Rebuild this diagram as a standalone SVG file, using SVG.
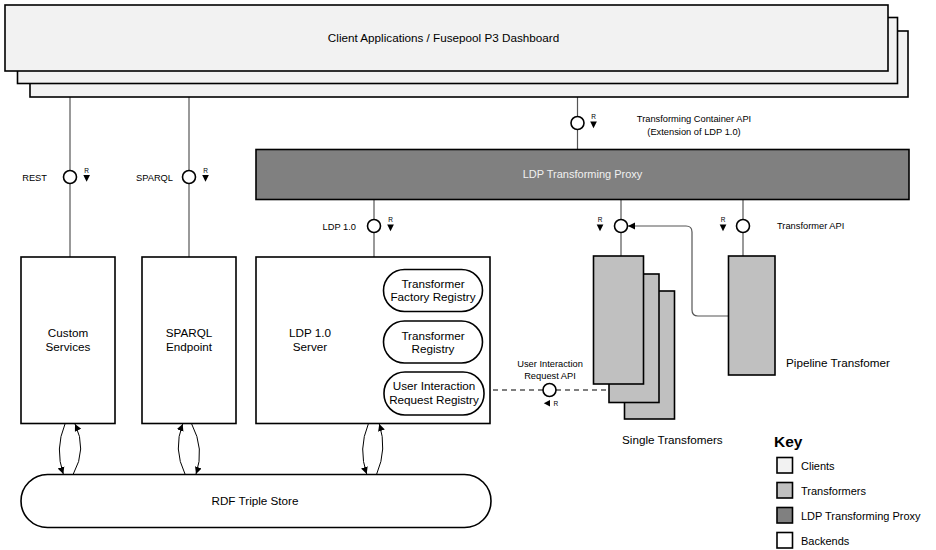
<svg xmlns="http://www.w3.org/2000/svg" width="936" height="550" viewBox="0 0 936 550">
<style>
  text { font-family: "Liberation Sans", Arial, sans-serif; fill: #000; }
  .main { font-size: 11.7px; text-anchor: middle; }
  .lbl { font-size: 9.3px; }
  .r { font-size: 6.5px; text-anchor: middle; }
  .box { stroke: #000; stroke-width: 1.6; }
  .client { fill: #f2f2f2; }
  .trans { fill: #c0c0c0; }
  .proxy { fill: #808080; }
  .backend { fill: #ffffff; }
  .conn { stroke: #555; stroke-width: 1.2; fill: none; }
  .iface { fill: #fff; stroke: #000; stroke-width: 1.6; }
  .tri { fill: #000; }
  .bi { stroke: #000; stroke-width: 1; fill: none; marker-end: url(#ah); }
  .key { font-size: 11px; }
</style>
<defs>
  <marker id="ah" markerWidth="8" markerHeight="8" refX="7" refY="4" orient="auto" markerUnits="userSpaceOnUse">
    <path d="M0,0.5 L7,4 L0,7.5 Z" fill="#000"/>
  </marker>
</defs>

<g id="connectors">
  <line class="conn" x1="70" y1="97" x2="70" y2="257"/>
  <line class="conn" x1="189" y1="97" x2="189" y2="257"/>
  <line class="conn" x1="577.5" y1="97" x2="577.5" y2="149"/>
  <line class="conn" x1="374" y1="199" x2="374" y2="257"/>
  <line class="conn" x1="621" y1="199" x2="621" y2="256"/>
  <line class="conn" x1="743" y1="199" x2="743" y2="256"/>
  <path class="conn" d="M728,316 H698 Q692,316 692,310 V232 Q692,226 686,226 H628" stroke="#000" marker-end="url(#ah)"/>
  <line x1="484" y1="390" x2="609" y2="390" stroke="#000" stroke-width="1.2" stroke-dasharray="5,4"/>
  <path class="bi" d="M65,424 Q54.6,449 63.3,474"/>
  <path class="bi" d="M73.3,474 Q87.2,449 75,424"/>
  <path class="bi" d="M185,474 Q172.8,449 182.7,424"/>
  <path class="bi" d="M191.7,424 Q204.8,449 196,474"/>
  <path class="bi" d="M368.3,424 Q357.9,449 366.7,474"/>
  <path class="bi" d="M376.7,474 Q387.4,449 379.3,424"/>
  <circle class="iface" cx="70" cy="177" r="6.5"/>
  <circle class="iface" cx="189" cy="177" r="6.5"/>
  <circle class="iface" cx="577.5" cy="123" r="6.5"/>
  <circle class="iface" cx="374" cy="226" r="6.5"/>
  <circle class="iface" cx="621" cy="226" r="6.5"/>
  <circle class="iface" cx="743" cy="226" r="6.5"/>
  <circle class="iface" cx="549.5" cy="390" r="6.5"/>
  <text class="r" x="86.5" y="172.5">R</text>
  <path class="tri" d="M83.3,175 H90 L86.6,181.7 Z"/>
  <text class="r" x="205.5" y="172.5">R</text>
  <path class="tri" d="M202.2,175 H208.9 L205.5,181.7 Z"/>
  <text class="r" x="593.5" y="118.5">R</text>
  <path class="tri" d="M590.2,121.5 H596.9 L593.5,128.2 Z"/>
  <text class="r" x="390.5" y="221.5">R</text>
  <path class="tri" d="M387.2,224.5 H393.9 L390.5,231.2 Z"/>
  <text class="r" x="600" y="221.5">R</text>
  <path class="tri" d="M596.7,224.5 H603.4 L600,231.2 Z"/>
  <text class="r" x="723" y="221.5">R</text>
  <path class="tri" d="M719.7,224.5 H726.4 L723,231.2 Z"/>
  <path class="tri" d="M550,400 V406.5 L543.8,403.2 Z"/>
  <text class="r" x="553.5" y="405.8" style="text-anchor:start">R</text>
  <text class="lbl" x="47" y="180.5" text-anchor="end">REST</text>
  <text class="lbl" x="173" y="180.5" text-anchor="end">SPARQL</text>
  <text class="lbl" x="356" y="230" text-anchor="end">LDP 1.0</text>
  <text class="lbl" x="694" y="122" text-anchor="middle">Transforming Container API</text>
  <text class="lbl" x="694" y="135" text-anchor="middle">(Extension of LDP 1.0)</text>
  <text class="lbl" x="777" y="229">Transformer API</text>
  <text class="lbl" x="550" y="367" text-anchor="middle">User Interaction</text>
  <text class="lbl" x="550" y="379" text-anchor="middle">Request API</text>
</g>

<g id="clients">
  <rect class="box client" x="30" y="31" width="878" height="66"/>
  <rect class="box client" x="17.5" y="17.5" width="880" height="66"/>
  <rect class="box client" x="5" y="5" width="883" height="66"/>
  <text class="main" x="443.5" y="41.5">Client Applications / Fusepool P3 Dashboard</text>
</g>

<g id="proxy">
  <rect class="box proxy" x="256" y="149.5" width="653" height="50"/>
  <text class="main" x="582.5" y="178" style="font-size:11px;fill:#f0f0f0">LDP Transforming Proxy</text>
</g>

<g id="custom-services">
  <rect class="box backend" x="21" y="257" width="94" height="166.5"/>
  <text class="main" x="68" y="337">Custom</text>
  <text class="main" x="68" y="351">Services</text>
</g>

<g id="sparql-endpoint">
  <rect class="box backend" x="142" y="257" width="94" height="166.5"/>
  <text class="main" x="189" y="337">SPARQL</text>
  <text class="main" x="189" y="351">Endpoint</text>
</g>

<g id="ldp-server">
  <rect class="box backend" x="256" y="257" width="234" height="166.5"/>
  <text class="main" x="310" y="337">LDP 1.0</text>
  <text class="main" x="310" y="351">Server</text>
</g>

<g id="transformer-factory-registry">
  <rect class="box backend" x="383.5" y="269.5" width="99" height="42" rx="21" ry="21"/>
  <text class="main" x="433" y="287.5">Transformer</text>
  <text class="main" x="433" y="301">Factory Registry</text>
</g>

<g id="transformer-registry">
  <rect class="box backend" x="383.5" y="321" width="99" height="42" rx="21" ry="21"/>
  <text class="main" x="433" y="339.5">Transformer</text>
  <text class="main" x="433" y="352.5">Registry</text>
</g>

<g id="user-interaction-request-registry">
  <rect class="box backend" x="384" y="372" width="100" height="43" rx="21" ry="21"/>
  <text class="main" x="434" y="389.5">User Interaction</text>
  <text class="main" x="434" y="403.5">Request Registry</text>
</g>

<g id="single-transformers">
  <rect class="box trans" x="624.5" y="291" width="50" height="128"/>
  <rect class="box trans" x="609" y="274" width="50" height="128.5"/>
  <rect class="box trans" x="593.5" y="256" width="50" height="128"/>
  <text class="main" x="622" y="444" style="text-anchor:start">Single Transfomers</text>
</g>

<g id="pipeline-transformer">
  <rect class="box trans" x="728.5" y="256" width="46.5" height="119"/>
  <text class="main" x="786" y="367" style="text-anchor:start">Pipeline Transfomer</text>
</g>

<g id="rdf-triple-store">
  <rect class="box backend" x="21" y="474.5" width="470" height="53" rx="26.5" ry="26.5"/>
  <text class="main" x="255" y="505">RDF Triple Store</text>
</g>

<g id="key">
  <text x="774" y="446.5" style="font-size:15.5px;font-weight:bold">Key</text>
  <rect class="box client" x="777" y="457.5" width="15.5" height="15.5"/>
  <text class="key" x="801" y="469.5">Clients</text>
  <rect class="box trans" x="777" y="482.5" width="15.5" height="15.5"/>
  <text class="key" x="801" y="494.5">Transformers</text>
  <rect class="box proxy" x="777" y="507.5" width="15.5" height="15.5"/>
  <text class="key" x="801" y="519.5">LDP Transforming Proxy</text>
  <rect class="box backend" x="777" y="532.5" width="15.5" height="15.5"/>
  <text class="key" x="801" y="544.5">Backends</text>
</g>
</svg>
